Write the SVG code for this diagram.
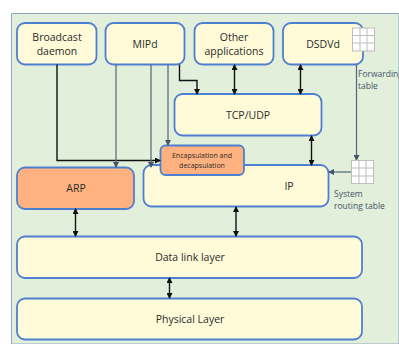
<svg xmlns="http://www.w3.org/2000/svg" width="399" height="344" viewBox="0 0 399 344">
<style>
.n{fill:#fffbd8;stroke:#4f7fd0;stroke-width:1.8}
.o{fill:#ffb27f;stroke:#4f7fd0;stroke-width:1.8}
text{font-family:"Open Sans","Liberation Sans",sans-serif;font-size:10.5px;fill:#2a2a2a;text-anchor:middle}
.s{font-size:7px}
.l{font-size:8.5px;fill:#44546a;text-anchor:start}
.g{fill:#fff;stroke:#bdbdbd;stroke-width:1}
.k{fill:none;stroke:#111;stroke-width:1.4}
.b{fill:none;stroke:#52647e;stroke-width:1.2}
</style>
<defs>
<marker id="a" markerWidth="6" markerHeight="6" refX="5" refY="3" orient="auto-start-reverse" markerUnits="userSpaceOnUse"><path d="M0,0L6,3L0,6Z" fill="#111"/></marker>
<marker id="c" markerWidth="6" markerHeight="6" refX="5" refY="3" orient="auto" markerUnits="userSpaceOnUse"><path d="M0,0L6,3L0,6Z" fill="#44546a"/></marker>
</defs>
<rect width="399" height="344" fill="#fff"/>
<path d="M399,13.500H11.500V344H399Z" fill="#e2efda" stroke="#8ea9c8" stroke-width="1"/>
<g id="broadcast"><rect class="n" x="17" y="23" width="79.500" height="41.500" rx="8"/><text x="57" y="41">Broadcast</text><text x="57" y="55">daemon</text></g>
<g id="mipd"><rect class="n" x="105.500" y="23" width="79" height="41.500" rx="8"/><text x="145" y="48">MIPd</text></g>
<g id="other"><rect class="n" x="194.500" y="23" width="79" height="41.500" rx="8"/><text x="234" y="41">Other</text><text x="234" y="55">applications</text></g>
<g id="dsdvd"><rect class="n" x="283" y="23" width="80" height="41.500" rx="8"/><text x="323" y="48">DSDVd</text></g>
<g id="tcpudp"><rect class="n" x="174.500" y="94" width="147" height="41.500" rx="8"/><text x="248" y="119">TCP/UDP</text></g>
<g id="ip"><rect class="n" x="143.500" y="165" width="185" height="41.500" rx="8"/><text x="289" y="190">IP</text></g>
<g id="encap"><rect class="o" x="160.500" y="145.500" width="83.500" height="29.500" rx="5"/><text class="s" x="202" y="158">Encapsulation and</text><text class="s" x="202" y="168">decapsulation</text></g>
<g id="arp"><rect class="o" x="17" y="167.500" width="117" height="41.500" rx="8"/><text x="76" y="192">ARP</text></g>
<g id="datalink"><rect class="n" x="17" y="236.500" width="345" height="41.500" rx="8"/><text x="190" y="261">Data link layer</text></g>
<g id="physical"><rect class="n" x="17" y="298.500" width="345" height="41" rx="8"/><text x="190" y="323">Physical Layer</text></g>
<g id="connectors">
<path class="k" d="M57,64.500V160.500H160" marker-end="url(#a)"/>
<path class="k" d="M179.500,64.500V80.500H197V94" marker-end="url(#a)"/>
<path class="b" d="M116,64.500V167" marker-end="url(#c)"/>
<path class="b" d="M151,64.500V167" marker-end="url(#c)"/>
<path class="b" d="M168,64.500V145" marker-end="url(#c)"/>
<path class="k" d="M234.500,65V94" marker-start="url(#a)" marker-end="url(#a)"/>
<path class="k" d="M300.500,65V94" marker-start="url(#a)" marker-end="url(#a)"/>
<path class="k" d="M311.500,136V165" marker-start="url(#a)" marker-end="url(#a)"/>
<path class="k" d="M75.500,209V236" marker-start="url(#a)" marker-end="url(#a)"/>
<path class="k" d="M236,207V236" marker-start="url(#a)" marker-end="url(#a)"/>
<path class="k" d="M169.500,278V298" marker-start="url(#a)" marker-end="url(#a)"/>
<path class="b" d="M356.500,64.500V160" marker-end="url(#c)"/>
<path class="b" d="M351,172H329" marker-end="url(#c)"/>
</g>
<g id="forwarding-table"><rect class="g" x="352.500" y="28" width="22" height="23"/><path class="g" d="M360,28V51M367,28V51M352.500,35.500H374.500M352.500,43H374.500"/></g>
<g id="routing-table"><rect class="g" x="351.500" y="160.500" width="22" height="23"/><path class="g" d="M359,160.500V183.500M366,160.500V183.500M351.500,168H373.500M351.500,176H373.500"/></g>
<text class="l" x="358" y="77">Forwarding</text><text class="l" x="358" y="89">table</text>
<text class="l" x="334" y="197">System</text><text class="l" x="334" y="209">routing table</text>
</svg>
